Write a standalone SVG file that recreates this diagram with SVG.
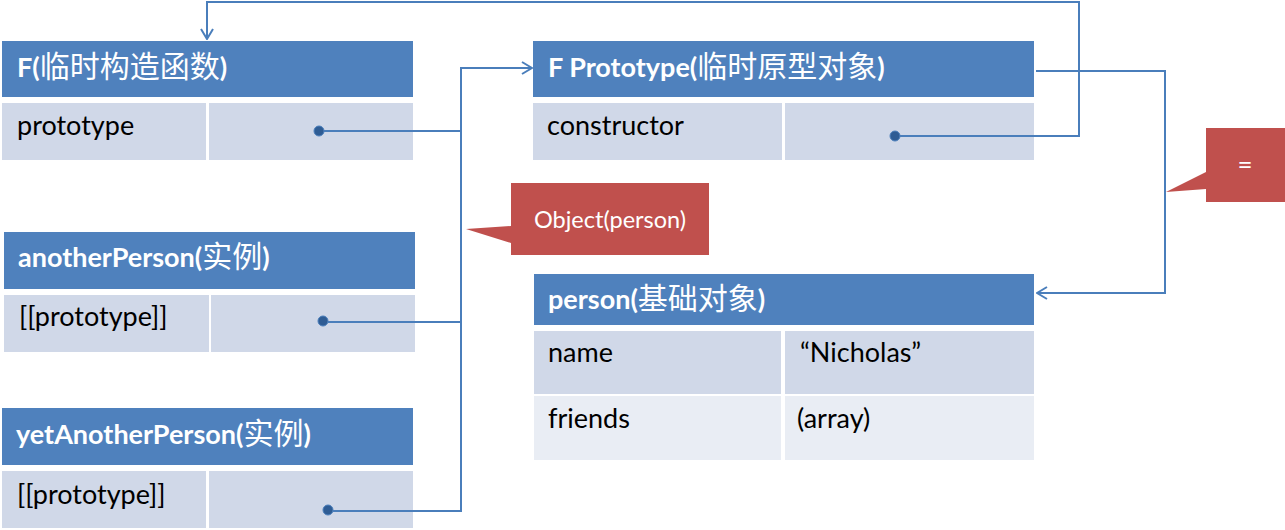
<svg xmlns="http://www.w3.org/2000/svg" width="1285" height="530" viewBox="0 0 1285 530">
<defs>
<style>
.hd{fill:#4F81BD}
.r1{fill:#D0D8E8}
.r2{fill:#E9EDF4}
.ht{font-family:Lato,"Noto Sans CJK SC",sans-serif;font-weight:bold;font-size:27px;fill:#fff}
.ht .cj{font-size:30px;font-weight:normal}
.bt{font-family:Lato,"Noto Sans CJK SC",sans-serif;font-size:27px;fill:#000}
.ln{fill:none;stroke:#4A7EBB;stroke-width:2}
.dot{fill:#2E5C94;stroke:#4A7EBB;stroke-width:1}
.co{fill:#C0504D}
.ct{font-family:Lato,sans-serif;font-size:23.5px;fill:#fff}
</style>
<marker id="arr" viewBox="0 0 12 14" refX="11" refY="7" markerWidth="12" markerHeight="14" markerUnits="userSpaceOnUse" orient="auto">
<path d="M1,1 L11,7 L1,13" fill="none" stroke="#4A7EBB" stroke-width="2"/>
</marker>
</defs>
<rect width="1285" height="530" fill="#fff"/>

<g id="node-F">
<rect class="hd" x="2" y="41" width="411" height="56"/>
<rect class="r1" x="2" y="103" width="204" height="57"/>
<rect class="r1" x="209" y="103" width="204" height="57"/>
<text class="ht" x="17" y="77">F(<tspan class="cj">临时构造函数</tspan>)</text>
<text class="bt" x="17" y="135">prototype</text>
<circle class="dot" cx="319" cy="131" r="5"/>
</g>

<g id="node-FPrototype">
<rect class="hd" x="533" y="41" width="501" height="56"/>
<rect class="r1" x="533" y="103" width="249" height="57"/>
<rect class="r1" x="785" y="103" width="249" height="57"/>
<text class="ht" x="548" y="77">F Prototype(<tspan class="cj">临时原型对象</tspan>)</text>
<text class="bt" x="547" y="135">constructor</text>
<circle class="dot" cx="895" cy="136" r="5"/>
</g>

<g id="node-anotherPerson">
<rect class="hd" x="4" y="232" width="411" height="57"/>
<rect class="r1" x="4" y="295" width="205" height="57"/>
<rect class="r1" x="211" y="295" width="204" height="57"/>
<text class="ht" x="18" y="267">anotherPerson(<tspan class="cj">实例</tspan>)</text>
<text class="bt" x="19" y="326">[[prototype]]</text>
<circle class="dot" cx="323" cy="321" r="5"/>
</g>

<g id="node-yetAnotherPerson">
<rect class="hd" x="2" y="408" width="411" height="57"/>
<rect class="r1" x="2" y="471" width="204" height="57"/>
<rect class="r1" x="209" y="471" width="204" height="57"/>
<text class="ht" x="16" y="444">yetAnotherPerson(<tspan class="cj">实例</tspan>)</text>
<text class="bt" x="17" y="504">[[prototype]]</text>
<circle class="dot" cx="328" cy="510" r="5"/>
</g>

<g id="node-person">
<rect class="hd" x="534" y="274" width="500" height="51"/>
<rect class="r1" x="534" y="331" width="247" height="63"/>
<rect class="r1" x="785" y="331" width="249" height="63"/>
<rect class="r2" x="534" y="396" width="247" height="64"/>
<rect class="r2" x="785" y="396" width="249" height="64"/>
<text class="ht" x="548" y="309">person(<tspan class="cj">基础对象</tspan>)</text>
<text class="bt" x="548" y="362">name</text>
<text class="bt" x="800" y="362">“Nicholas”</text>
<text class="bt" x="548" y="428">friends</text>
<text class="bt" x="797" y="428">(array)</text>
</g>

<g id="callout-object">
<path class="co" d="M511,183 H709 V255 H511 V243 L466,229 L511,226 Z"/>
<text class="ct" x="610" y="228" text-anchor="middle">Object(person)</text>
</g>

<g id="callout-eq">
<path class="co" d="M1206,128 H1285 V202 H1206 V189 L1166,192 L1206,172 Z"/>
<text class="ct" x="1245" y="174" text-anchor="middle" style="font-size:26px">=</text>
</g>

<g id="connectors">
<path class="ln" d="M324,131 H461"/>
<path class="ln" d="M328,322 H461"/>
<path class="ln" d="M333,511 H461 V68 H532" marker-end="url(#arr)"/>
<path class="ln" d="M900,136 H1079 V2 H207 V39" marker-end="url(#arr)"/>
<path class="ln" d="M1036,71 H1165 V293 H1037" marker-end="url(#arr)"/>
</g>
</svg>
